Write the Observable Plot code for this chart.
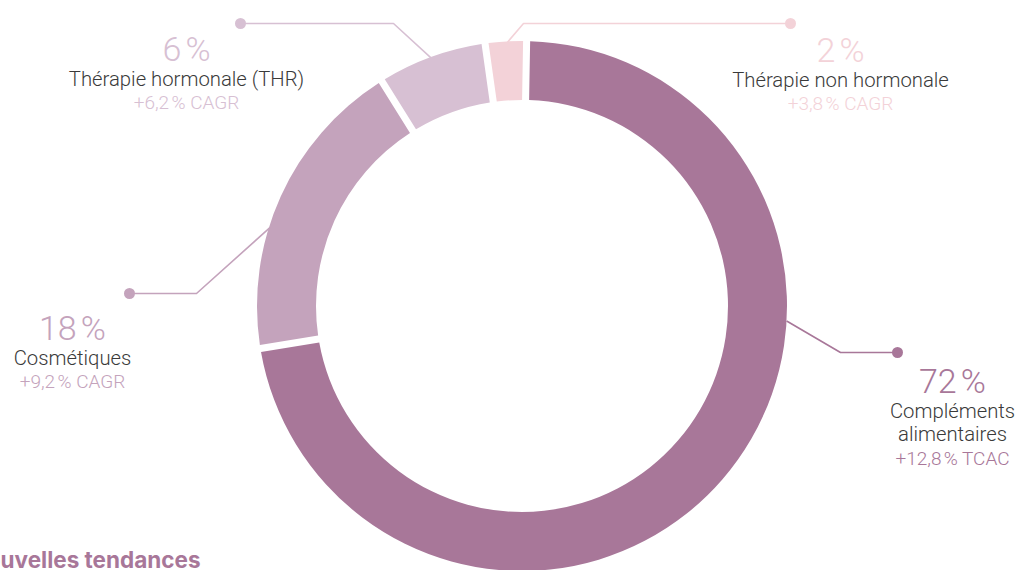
<!DOCTYPE html>
<html lang="fr">
<head>
<meta charset="utf-8">
<script src="https://cdn.jsdelivr.net/npm/d3@7"></script>
<script src="https://cdn.jsdelivr.net/npm/@observablehq/plot@0.6"></script>
<style>
  html, body { margin: 0; padding: 0; background: #ffffff; overflow: hidden; }
  #chart svg { display: block; }
</style>
</head>
<body>
<div id="chart"></div>
<script>
// ---------- data ----------
const categories = ["Compléments alimentaires", "Cosmétiques", "Thérapie hormonale (THR)", "Thérapie non hormonale"];
const nameLines = [["Compléments", "alimentaires"], ["Cosmétiques"], ["Thérapie hormonale (THR)"], ["Thérapie non hormonale"]];
const shares = [72.8, 18.6, 6.4, 2.2];             // arc shares as read from the ring
const shareLabels = ["72\u202F%", "18\u202F%", "6\u202F%", "2\u202F%"];
const growthLabels = ["+12,8\u202F% TCAC", "+9,2\u202F% CAGR", "+6,2\u202F% CAGR", "+3,8\u202F% CAGR"];
const colors = ["#a87799", "#c4a3bc", "#d7c0d3", "#f3d2d8"];
const heading = "Nouvelles tendances";

// ---------- layout ----------
const W = 1021, H = 570;
const center = {x: 522, y: 306};
const outerR = 265, innerR = 206;
const startDeg = 1;
const padAngle = 0.021;
const leaderAngles = [93.2, 287.2, 339.8, 356.8];           // where each leader leaves the ring
const leaderElbows = [[840, 352], [196, 293], [393, 23], [523, 23]];
const leaderDots = [[897, 352], [129, 293], [240, 23], [790, 23]];
const labelX = [952, 72, 186, 840];
const labelBase = [392, 339, 60, 61];   // baseline of the big share figure
const nameGap = 25, lineGap = 23.5;

// ---------- derived ----------
const slices = categories.map((c, i) => ({category: c, share: shares[i]}));
const arcs = d3.pie().sort(null).value(d => d.share)
  .startAngle(startDeg * Math.PI / 180)
  .endAngle((startDeg + 360) * Math.PI / 180)
  .padAngle(padAngle)(slices);

const leaderPts = categories.flatMap((c, i) => {
  const a = leaderAngles[i] * Math.PI / 180;
  return [
    {category: c, x: center.x + outerR * Math.sin(a), y: center.y - outerR * Math.cos(a)},
    {category: c, x: leaderElbows[i][0], y: leaderElbows[i][1]},
    {category: c, x: leaderDots[i][0], y: leaderDots[i][1]}
  ];
});
const dots = categories.map((c, i) => ({category: c, x: leaderDots[i][0], y: leaderDots[i][1]}));

const shareRows = categories.map((c, i) => ({category: c, x: labelX[i], y: labelBase[i], text: shareLabels[i]}));
const nameRows = categories.flatMap((c, i) => nameLines[i].map((t, j) => ({category: c, x: labelX[i], y: labelBase[i] + nameGap + j * lineGap, text: t})));
const growthRows = categories.map((c, i) => ({category: c, x: labelX[i], y: labelBase[i] + nameGap + nameLines[i].length * lineGap, text: growthLabels[i]}));

function donut(index, scales) {
  const x = scales.x, y = scales.y, color = scales.color;
  const k = x(1) - x(0);
  const arc = d3.arc().innerRadius(innerR * k).outerRadius(outerR * k);
  const g = d3.create("svg:g").attr("transform", `translate(${x(center.x)},${y(center.y)})`);
  g.selectAll("path").data(arcs).join("path")
    .attr("d", arc)
    .attr("fill", d => color(d.data.category));
  return g.node();
}

const font = "Roboto, 'Liberation Sans', sans-serif";

const chart = Plot.plot({
  width: W,
  height: H,
  margin: 0,
  x: {domain: [0, W], range: [0, W], axis: null},
  y: {domain: [0, H], range: [0, H], axis: null},
  color: {domain: categories, range: colors},
  style: {background: "#ffffff", fontFamily: font, overflow: "hidden"},
  marks: [
    donut,
    Plot.line(leaderPts, {x: "x", y: "y", z: "category", stroke: "category", strokeWidth: 1.6, curve: "linear"}),
    Plot.dot(dots, {x: "x", y: "y", r: 5.5, fill: "category", stroke: null}),
    Plot.text(shareRows, {x: "x", y: "y", text: "text", fill: "category", fontSize: 34, fontWeight: 300, textAnchor: "middle", lineAnchor: "bottom"}),
    Plot.text(nameRows, {x: "x", y: "y", text: "text", fill: "#3a3a3a", fontSize: 20.3, fontWeight: 300, textAnchor: "middle", lineAnchor: "bottom"}),
    Plot.text(growthRows, {x: "x", y: "y", text: "text", fill: "category", fontSize: 19, fontWeight: 300, textAnchor: "middle", lineAnchor: "bottom"}),
    Plot.text([heading], {x: () => 200, y: () => 567, text: d => d, fill: colors[0], fontSize: 22.5, fontWeight: 700, textAnchor: "end", lineAnchor: "bottom", fontFamily: "Inter, Roboto, sans-serif"})
  ]
});
document.getElementById("chart").appendChild(chart);
</script>
</body>
</html>
